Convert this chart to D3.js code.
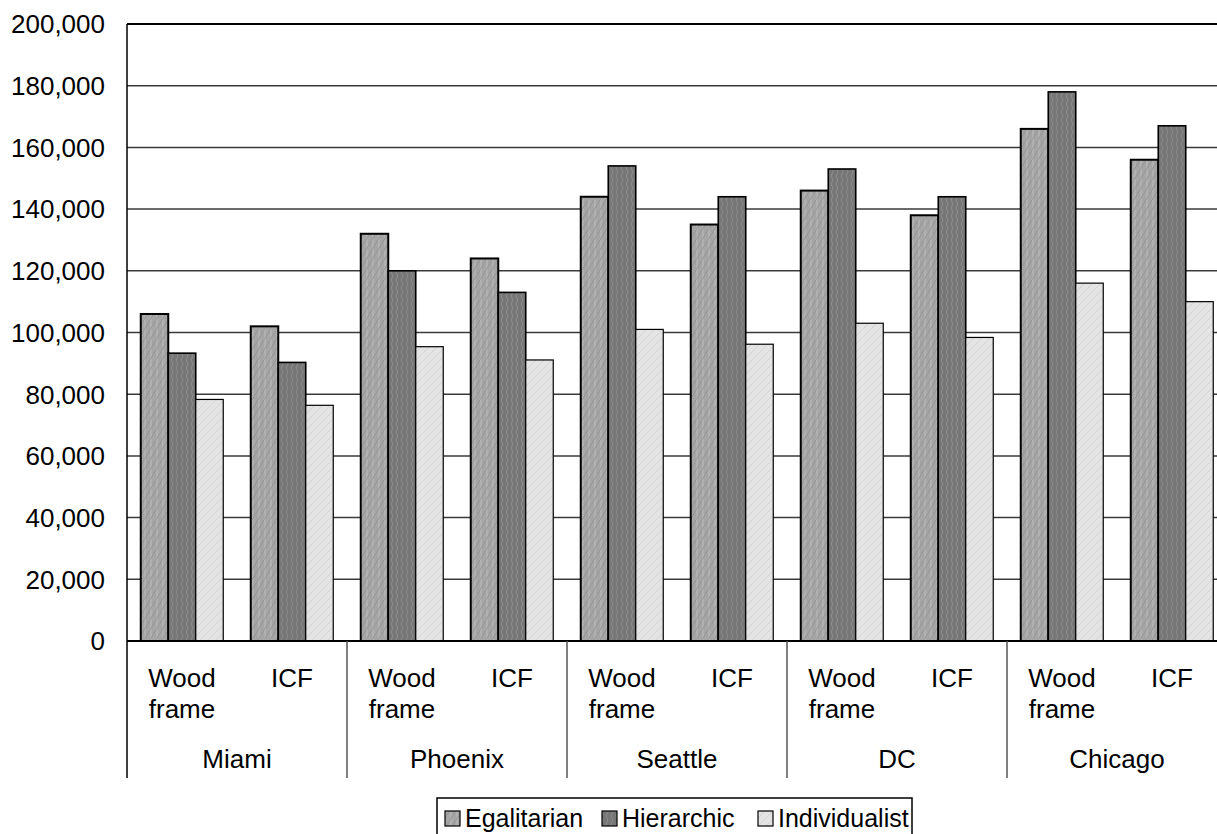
<!DOCTYPE html>
<html>
<head>
<meta charset="utf-8">
<script src="https://cdn.jsdelivr.net/npm/d3@7"></script>
<style>
  body { margin: 0; background: #fff; }
  svg { display: block; font-family: "Liberation Sans", Arial, sans-serif; }
</style>
</head>
<body>
<svg></svg>
<script>
const svg = d3.select('svg')
    .attr('width', 1217)
    .attr('height', 834);

// categories
const cities = ['Miami', 'Phoenix', 'Seattle', 'DC', 'Chicago'];
const types = ['Wood frame', 'ICF'];
const series = ['Egalitarian', 'Hierarchic', 'Individualist'];

// values per city/type, order: Miami WF, Miami ICF, Phoenix WF, ...
const egalitarian   = [106000, 102000, 132000, 124000, 144000, 135000, 146000, 138000, 166000, 156000];
const hierarchic    = [93300, 90300, 120000, 113000, 154000, 144000, 153000, 144000, 178000, 167000];
const individualist = [78300, 76400, 95400, 91100, 101000, 96200, 103000, 98400, 116000, 110000];

const yTicks = [0, 20000, 40000, 60000, 80000, 100000, 120000, 140000, 160000, 180000, 200000];

const plotLeft = 127, plotRight = 1227, plotTop = 24, plotBottom = 641;

const slots = [];
cities.forEach(c => types.forEach(t => slots.push(c + '|' + t)));

const x = d3.scaleBand().domain(slots).range([plotLeft, plotRight]);
const xInner = d3.scaleBand().domain(series).range([0, x.bandwidth()])
    .paddingInner(0).paddingOuter(0.5);
const y = d3.scaleLinear().domain([0, 200000]).range([plotBottom, plotTop]);

// patterns
const defs = svg.append('defs');

const p1 = defs.append('pattern').attr('id', 'pat-egal')
    .attr('patternUnits', 'userSpaceOnUse').attr('width', 6).attr('height', 10);
p1.append('rect').attr('width', 6).attr('height', 10).attr('fill', '#a5a5a5');
p1.append('path').attr('d', 'M1,0 L1,10').attr('stroke', '#bcbcbc').attr('stroke-width', 1);
p1.append('path').attr('d', 'M0,10 L6,0').attr('stroke', '#959595').attr('stroke-width', 1);

const p2 = defs.append('pattern').attr('id', 'pat-hier')
    .attr('patternUnits', 'userSpaceOnUse').attr('width', 5).attr('height', 8);
p2.append('rect').attr('width', 5).attr('height', 8).attr('fill', '#767676');
p2.append('path').attr('d', 'M1,0 L3,4 L1,8').attr('fill', 'none')
    .attr('stroke', '#8e8e8e').attr('stroke-width', 1);

const p3 = defs.append('pattern').attr('id', 'pat-indiv')
    .attr('patternUnits', 'userSpaceOnUse').attr('width', 8).attr('height', 8);
p3.append('rect').attr('width', 8).attr('height', 8).attr('fill', '#e4e4e4');
p3.append('path').attr('d', 'M0,8 L8,0').attr('stroke', '#d5d5d5').attr('stroke-width', 1);

const fills = { 'Egalitarian': 'url(#pat-egal)', 'Hierarchic': 'url(#pat-hier)', 'Individualist': 'url(#pat-indiv)' };
const strokeW = { 'Egalitarian': 2, 'Hierarchic': 1.6, 'Individualist': 1.2 };
const values = { 'Egalitarian': egalitarian, 'Hierarchic': hierarchic, 'Individualist': individualist };

// gridlines
svg.append('g')
    .selectAll('line')
    .data(yTicks.filter(d => d > 0))
    .enter()
    .append('line')
    .attr('x1', plotLeft)
    .attr('x2', plotRight)
    .attr('y1', d => y(d))
    .attr('y2', d => y(d))
    .attr('stroke', d => d === 200000 ? '#000' : '#3a3a3a')
    .attr('stroke-width', d => d === 200000 ? 2 : 1.5);

// y tick labels
svg.append('g')
    .selectAll('text')
    .data(yTicks)
    .enter()
    .append('text')
    .attr('x', 105)
    .attr('y', d => y(d))
    .attr('dy', '0.36em')
    .attr('text-anchor', 'end')
    .style('font-size', '26px')
    .attr('fill', '#000')
    .text(d => d3.format(',')(d));

// bars
series.forEach(s => {
    svg.append('g')
        .selectAll('rect')
        .data(values[s])
        .enter()
        .append('rect')
        .attr('x', (d, i) => x(slots[i]) + xInner(s))
        .attr('y', d => y(d))
        .attr('width', xInner.bandwidth())
        .attr('height', d => plotBottom - y(d))
        .attr('fill', fills[s])
        .attr('stroke', '#000')
        .attr('stroke-width', strokeW[s]);
});

// axes lines
svg.append('line')
    .attr('x1', plotLeft).attr('x2', plotLeft)
    .attr('y1', plotTop).attr('y2', 778)
    .attr('stroke', '#000').attr('stroke-width', 1.5);
svg.append('line')
    .attr('x1', plotLeft).attr('x2', plotRight)
    .attr('y1', plotBottom).attr('y2', plotBottom)
    .attr('stroke', '#000').attr('stroke-width', 2);

// city separators
svg.append('g')
    .selectAll('line')
    .data(cities.slice(1))
    .enter()
    .append('line')
    .attr('x1', d => x(d + '|Wood frame'))
    .attr('x2', d => x(d + '|Wood frame'))
    .attr('y1', plotBottom)
    .attr('y2', 778)
    .attr('stroke', '#555')
    .attr('stroke-width', 1.5);

// type labels
const typeLabels = svg.append('g')
    .selectAll('text')
    .data(slots)
    .enter()
    .append('text')
    .attr('text-anchor', 'middle')
    .style('font-size', '26px')
    .attr('fill', '#000');

typeLabels.each(function(d) {
    const t = d.split('|')[1];
    const cx = x(d) + x.bandwidth() / 2;
    const words = t.split(' ');
    words.forEach((w, k) => {
        d3.select(this).append('tspan')
            .attr('x', cx)
            .attr('y', 687 + k * 31)
            .text(w);
    });
});

// city labels
svg.append('g')
    .selectAll('text')
    .data(cities)
    .enter()
    .append('text')
    .attr('x', d => x(d + '|Wood frame') + x.bandwidth())
    .attr('y', 768)
    .attr('text-anchor', 'middle')
    .style('font-size', '26px')
    .attr('fill', '#000')
    .text(d => d);

// legend
const legend = svg.append('g');
legend.append('rect')
    .attr('x', 437).attr('y', 798)
    .attr('width', 475).attr('height', 50)
    .attr('fill', '#fff')
    .attr('stroke', '#000').attr('stroke-width', 1.5);

const legendX = [445, 602, 758];
series.forEach((s, i) => {
    legend.append('rect')
        .attr('x', legendX[i]).attr('y', 811)
        .attr('width', 15).attr('height', 15)
        .attr('fill', fills[s])
        .attr('stroke', '#000').attr('stroke-width', 1.2);
    legend.append('text')
        .attr('x', legendX[i] + 20)
        .attr('y', 827)
        .style('font-size', '25px')
        .attr('fill', '#000')
        .text(s);
});
</script>
</body>
</html>
